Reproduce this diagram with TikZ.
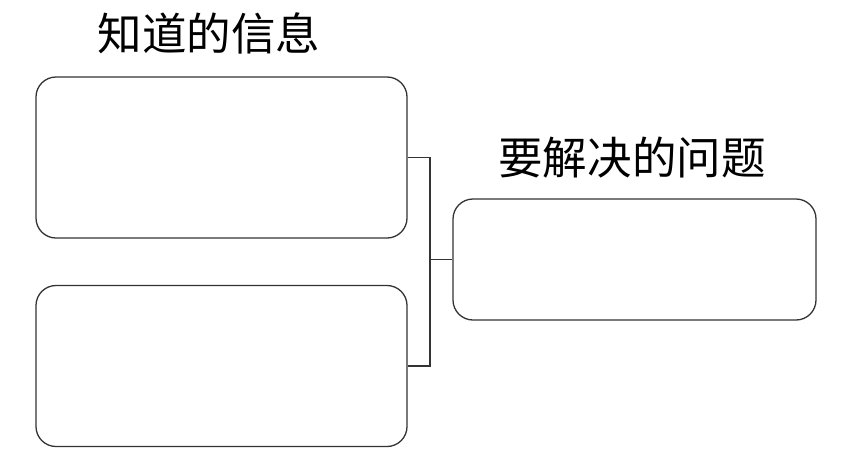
\documentclass[tikz,border=0pt]{standalone}
\usepackage{fontspec}
\newfontfamily\cjk{Noto Sans CJK SC}
\usetikzlibrary{positioning,calc}

\begin{document}
\begin{tikzpicture}[
    box/.style={draw=black!80, rectangle, rounded corners=0.6cm, line width=1.1pt,
      minimum width=11.13cm, minimum height=4.83cm},
    goalbox/.style={box, minimum width=10.89cm, minimum height=3.63cm},
    title/.style={font=\cjk\fontsize{38}{42}\selectfont, inner sep=0pt},
    link/.style={draw=black!80, line width=1.1pt}
  ]
    \useasboundingbox (0,0) rectangle (25.29,-13.56);
    \node[box] (known1) at (6.645,-4.725) {};
    \node[box] (known2) at (6.645,-10.98) {};
    \node[goalbox] (goal) at (19.035,-7.785) {};
    \node[title] (knowntitle) at (6.27,-1.0) {知道的信息};
    \node[title] (goaltitle) at (18.96,-4.72) {要解决的问题};

    \coordinate (bar) at (12.9,-7.785);
    \draw[link] (known1.east) -| (bar) |- (known2.east);
    \draw[link] (bar) -- (goal.west);
  \end{tikzpicture}
\end{document}
